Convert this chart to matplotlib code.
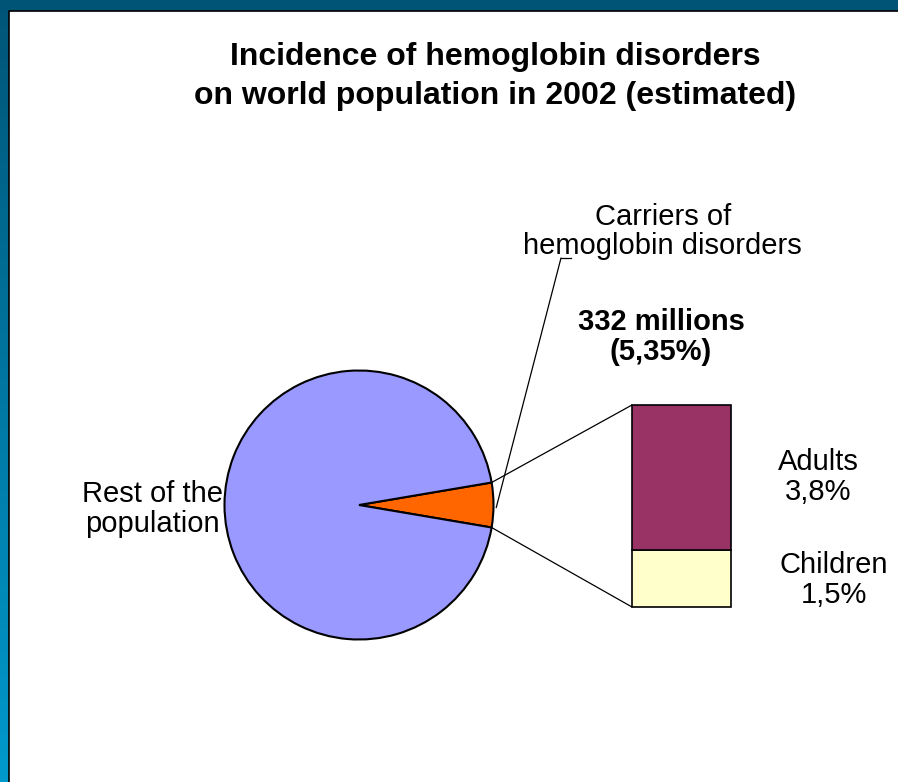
import numpy as np
import matplotlib
matplotlib.use('Agg')
import matplotlib.pyplot as plt
from matplotlib.patches import Rectangle, ConnectionPatch
from matplotlib.colors import LinearSegmentedColormap

plt.rcParams['font.family'] = ['Liberation Sans', 'DejaVu Sans']

# ── Data ──────────────────────────────────────────────────────────────────────
pie_labels = ['Carriers of\nhemoglobin disorders', 'Rest of the\npopulation']
pie_values = [5.35, 94.65]
pie_colors = ['#ff6600', '#9999ff']

bar_labels = ['Children', 'Adults']
bar_values = [1.5, 3.8]
bar_colors = ['#ffffcc', '#993366']

W, H = 898, 782
fig = plt.figure(figsize=(W / 100, H / 100), dpi=100)

# ── Background / frame (pixel coordinates) ───────────────────────────────────
bg = fig.add_axes([0, 0, 1, 1])
bg.set_xlim(0, W)
bg.set_ylim(H, 0)
bg.axis('off')
grad = LinearSegmentedColormap.from_list('frame', ['#005577', '#0099cc'])
bg.imshow(np.linspace(0, 1, 200)[:, None], cmap=grad, aspect='auto',
          extent=[0, 8.5, H, 0], zorder=0)
bg.add_patch(Rectangle((0, 0), W, 10.5, fc='#005577', ec='none', zorder=1))
bg.plot([8.5, 8.5, W], [H, 10.5, 10.5], color='black', lw=1.2, zorder=2)

# ── Pie ───────────────────────────────────────────────────────────────────────
cx, cy, r = 359, 505, 134.5
pie_ax = fig.add_axes([(cx - r) / W, (H - cy - r) / H, 2 * r / W, 2 * r / H])
theta = 360 * pie_values[0] / sum(pie_values)
pie_ax.pie(pie_values, colors=pie_colors, startangle=-theta / 2,
           wedgeprops=dict(edgecolor='black', linewidth=1.5))
pie_ax.set_xlim(-1, 1)
pie_ax.set_ylim(-1, 1)
pie_ax.set_facecolor('none')

# ── Stacked bar (break-down of the carriers) ─────────────────────────────────
bx0, bx1, by0, by1 = 632, 731, 405, 607
bar_ax = fig.add_axes([bx0 / W, (H - by1) / H, (bx1 - bx0) / W, (by1 - by0) / H])
bottom = 0
for v, c in zip(bar_values, bar_colors):
    bar_ax.bar(0, v, width=1, bottom=bottom, color=c, edgecolor='black',
               linewidth=1.2, clip_on=False)
    bottom += v
bar_ax.set_xlim(-0.5, 0.5)
bar_ax.set_ylim(0, sum(bar_values))
bar_ax.axis('off')

# connector lines pie wedge -> bar
a = np.deg2rad(theta / 2)
for (px, py), by in [((np.cos(a), np.sin(a)), sum(bar_values)),
                     ((np.cos(a), -np.sin(a)), 0)]:
    fig.add_artist(ConnectionPatch((px, py), (-0.5, by),
                                   coordsA=pie_ax.transData,
                                   coordsB=bar_ax.transData,
                                   color='black', lw=0.9))

# leader line for the carriers label
fig.add_artist(ConnectionPatch((1.02, -0.02), (561, 258),
                               coordsA=pie_ax.transData, coordsB=bg.transData,
                               color='black', lw=0.9))
bg.plot([561, 571], [258, 258], color='black', lw=0.9)

# ── Texts ────────────────────────────────────────────────────────────────────
def txt(x, y, s, size=21, weight='normal'):
    bg.text(x, y, s, ha='center', va='baseline', fontsize=size,
            fontweight=weight, color='black')

txt(495, 65, 'Incidence of hemoglobin disorders', size=23, weight='bold')
txt(495, 104, 'on world population in 2002 (estimated)', size=23, weight='bold')

c1, c2 = pie_labels[0].split('\n')
txt(663, 225, c1)
txt(662, 254, c2)
txt(661, 330, '332 millions', weight='bold')
txt(661, 360, f'({pie_values[0]:.2f}%)'.replace('.', ','), weight='bold')

r1, r2 = pie_labels[1].split('\n')
txt(153, 502, r1)
txt(152, 532, r2)

txt(818, 470, bar_labels[1])
txt(818, 500, f'{bar_values[1]:.1f}%'.replace('.', ','))
txt(834, 573, bar_labels[0])
txt(834, 603, f'{bar_values[0]:.1f}%'.replace('.', ','))

plt.savefig('out.png', dpi=100, facecolor='white')
